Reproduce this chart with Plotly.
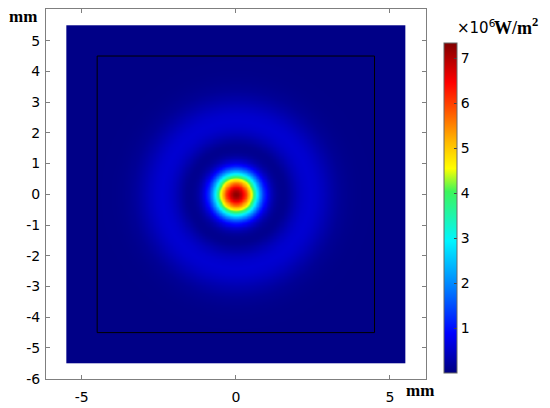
import numpy as np
import plotly.graph_objects as go

# Radial intensity profile (r in mm, intensity in 10^6 W/m^2)
radius_mm = [0.0, 0.1, 0.2, 0.3, 0.4, 0.5, 0.6, 0.7, 0.8, 0.9, 1.0, 1.1, 1.2, 1.3, 1.4,
             1.5, 1.6, 1.7, 1.8, 1.9, 2.0, 2.2, 2.4, 2.6, 2.8, 3.0, 3.2, 3.4, 3.7, 4.0,
             4.5, 5.5, 8.0]
intensity = [7.30, 7.10, 6.70, 6.10, 5.30, 4.55, 3.60, 2.70, 1.90, 1.25, 0.80, 0.50, 0.30,
             0.18, 0.12, 0.10, 0.12, 0.18, 0.26, 0.34, 0.42, 0.53, 0.57, 0.53, 0.44, 0.33,
             0.23, 0.15, 0.09, 0.06, 0.05, 0.05, 0.05]

domain_half = 5.5      # outer square half-width (mm)
inner_half = 4.5       # inner black square half-width (mm)
x_ticks = [-5, 0, 5]
x_labels = ["-5", "0", "5"]
y_ticks = [-6, -5, -4, -3, -2, -1, 0, 1, 2, 3, 4, 5]
y_labels = ["-6", "-5", "-4", "-3", "-2", "-1", "0", "1", "2", "3", "4", "5"]
cbar_ticks = [1, 2, 3, 4, 5, 6, 7]

step = 0.05
centers = np.arange(-domain_half + step / 2, domain_half, step)
XX, YY = np.meshgrid(centers, centers)
R = np.sqrt(XX ** 2 + YY ** 2)
Z = np.interp(R, radius_mm, intensity)

colorscale = [
    [0.00, "rgb(0,0,128)"],
    [0.12, "rgb(0,0,255)"],
    [0.26, "rgb(0,128,255)"],
    [0.40, "rgb(0,245,255)"],
    [0.55, "rgb(60,245,90)"],
    [0.62, "rgb(255,255,0)"],
    [0.70, "rgb(255,185,0)"],
    [0.80, "rgb(255,80,0)"],
    [0.88, "rgb(255,0,0)"],
    [1.00, "rgb(128,0,0)"],
]

fig = go.Figure()
fig.add_trace(go.Heatmap(
    x=centers, y=centers, z=Z,
    zmin=0, zmax=7.33,
    colorscale=colorscale,
    zsmooth="best",
    showscale=True,
    colorbar=dict(
        x=1.047, xanchor="left", xref="paper",
        y=0.461, yanchor="middle",
        len=330, lenmode="pixels",
        thickness=13, thicknessmode="pixels",
        outlinewidth=1, outlinecolor="#666666",
        tickvals=cbar_ticks, ticks="inside", ticklen=3, tickcolor="#444444",
        tickfont=dict(family="DejaVu Sans", size=14, color="#000000"),
        xpad=0, ypad=0,
    ),
))

fig.add_shape(type="rect", xref="x", yref="y",
              x0=-inner_half, x1=inner_half, y0=-inner_half, y1=inner_half,
              line=dict(color="black", width=1), fillcolor="rgba(0,0,0,0)")

axis_common = dict(
    showgrid=False, zeroline=False, automargin=False,
    showline=True, linecolor="#7f7f7f", linewidth=1,
    ticks="inside", ticklen=4, tickcolor="#7f7f7f", tickwidth=1,
    mirror="ticks",
    tickfont=dict(family="DejaVu Sans", size=14, color="#000000"),
)

fig.update_xaxes(range=[-6.16, 6.17], tickvals=x_ticks, ticktext=x_labels,
                 ticklabelstandoff=5, **axis_common)
fig.update_yaxes(range=[-6.01, 6.03], tickvals=y_ticks, ticktext=y_labels,
                 ticklabelstandoff=2, **axis_common)

serif = "Liberation Serif"
fig.add_annotation(x=-0.0605, y=0.981, xref="paper", yref="paper",
                   xanchor="center", yanchor="middle",
                   text="<b>mm</b>", showarrow=False,
                   font=dict(family=serif, size=17, color="#000000"))
fig.add_annotation(x=0.984, y=-0.031, xref="paper", yref="paper",
                   xanchor="center", yanchor="middle",
                   text="<b>mm</b>", showarrow=False,
                   font=dict(family=serif, size=17, color="#000000"))
fig.add_annotation(x=1.076, y=0.919, xref="paper", yref="paper",
                   xanchor="left", yanchor="bottom",
                   text="×10<sup>6</sup>", showarrow=False,
                   font=dict(family="DejaVu Sans", size=15, color="#000000"))
fig.add_annotation(x=1.1737, y=0.915, xref="paper", yref="paper",
                   xanchor="left", yanchor="bottom",
                   text="<b>W/m<sup>2</sup></b>", showarrow=False,
                   font=dict(family=serif, size=18, color="#000000"))

# page body has an 8px margin: size the figure so the page is exactly 550x408
fig.update_layout(
    width=542, height=400,
    margin=dict(l=38, r=124, t=1, b=29, pad=0),
    paper_bgcolor="white", plot_bgcolor="white",
    showlegend=False,
)

fig.write_html("out.html")
